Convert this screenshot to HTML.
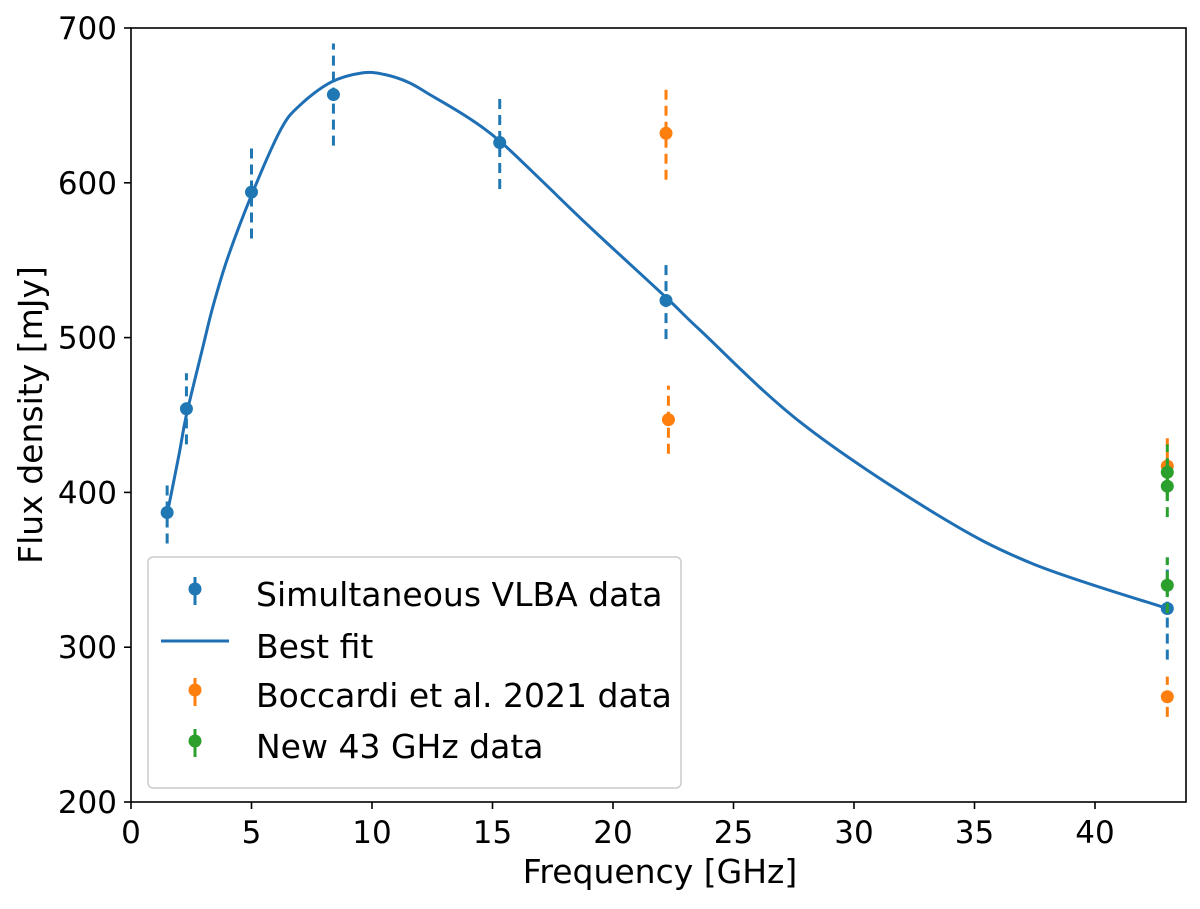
<!DOCTYPE html>
<html><head><meta charset="utf-8"><style>
body{margin:0;background:#fff}
svg text{font-family:"DejaVu Sans","Liberation Sans",sans-serif;fill:#000}
</style></head><body>
<svg id="c" width="1200" height="904" xmlns="http://www.w3.org/2000/svg"></svg>
<script>
const xTicks=[0,5,10,15,20,25,30,35,40];
const yTicks=[200,300,400,500,600,700];
const vlbaFreq=[1.5,2.3,5.0,8.4,15.3,22.2,43.0];
const vlbaFlux=[387,454,594,657,626,524,325];
const vlbaErr=[20,23,30,33,30,25,33];
const fitFreq=[1.5,2,2.3,3,3.4,4,5,6.2,7,8.3,9.6,10.5,11.5,12.4,14,15.3,17,19,22.2,23.6,27.8,33.3,37.4,43];
const fitFlux=[386,425,450,495,520,551,592,634,650,665,671,670,665,657,642,627,602,572,526,505,445,387,354,325];
const bocFreq=[22.2,22.3,43.0,43.0];
const bocFlux=[632,447,417,268];
const bocErr=[30,22,18,13];
const newFreq=[43.0,43.0,43.0];
const newFlux=[413,404,340];
const newErr=[18,20,18];

const NS="http://www.w3.org/2000/svg";
const svg=document.getElementById('c');
const L=131,R=1186,T=28,B=802;
const X=v=>L+v*24.1;
const Y=v=>B-(v-200)*1.548;
function mk(t,a,p){const e=document.createElementNS(NS,t);for(const k in a)e.setAttribute(k,a[k]);(p||svg).appendChild(e);return e;}

const P=fitFreq.map((f,i)=>[X(f),Y(fitFlux[i])]);
let d='M'+P[0][0]+' '+P[0][1];
for(let i=0;i<P.length-1;i++){
  const p0=P[Math.max(0,i-1)],p1=P[i],p2=P[i+1],p3=P[Math.min(P.length-1,i+2)];
  const c1=[p1[0]+(p2[0]-p0[0])/6,p1[1]+(p2[1]-p0[1])/6];
  const c2=[p2[0]-(p3[0]-p1[0])/6,p2[1]-(p3[1]-p1[1])/6];
  d+=` C${c1[0].toFixed(1)} ${c1[1].toFixed(1)} ${c2[0].toFixed(1)} ${c2[1].toFixed(1)} ${p2[0].toFixed(1)} ${p2[1].toFixed(1)}`;
}
const fit=mk('path',{d:d,fill:'none',stroke:'#1f6fb4','stroke-width':3});



function series(fr,fl,er,col,name){
  const g=mk('g',{});
  
  
  fr.forEach((f,i)=>{
    const eb=mk('line',{x1:X(f),x2:X(f),y1:Y(fl[i]-er[i]),y2:Y(fl[i]+er[i]),stroke:col,'stroke-width':3,'stroke-dasharray':'10 6'},g);
    
    
  });
  fr.forEach((f,i)=>{
    const c=mk('circle',{cx:X(f),cy:Y(fl[i]),r:6.5,fill:col},g);
    
    
  });
}
series(vlbaFreq,vlbaFlux,vlbaErr,'#1f77b4','vlba-series');
series(bocFreq,bocFlux,bocErr,'#ff7f0e','boccardi-series');
series(newFreq,newFlux,newErr,'#2ca02c','new-43ghz-series');

const fr=mk('rect',{x:L,y:T,width:R-L,height:B-T,fill:'none',stroke:'#000','stroke-width':1.6});


xTicks.forEach(t=>{
  mk('line',{x1:X(t),x2:X(t),y1:B,y2:B+7,stroke:'#000','stroke-width':1.6});
  const tx=mk('text',{x:X(t),y:B+41,'text-anchor':'middle','font-size':31});tx.textContent=t;
  
  
});
yTicks.forEach(t=>{
  mk('line',{x1:L-7,x2:L,y1:Y(t),y2:Y(t),stroke:'#000','stroke-width':1.6});
  const tx=mk('text',{x:L-14,y:Y(t)+11,'text-anchor':'end','font-size':31});tx.textContent=t;
  
  
});
const xl=mk('text',{x:660,y:883,'text-anchor':'middle','font-size':33});xl.textContent='Frequency [GHz]';


const yl=mk('text',{x:42,y:415,'text-anchor':'middle','font-size':33,transform:'rotate(-90 42 415)'});yl.textContent='Flux density [mJy]';



const lg=mk('g',{});


mk('rect',{x:148,y:557,width:533,height:231,rx:5,fill:'#fff','fill-opacity':0.8,stroke:'#ccc','stroke-width':1.5},lg);
const ent=[['Simultaneous VLBA data','#1f77b4',0],['Best fit','#1f6fb4',1],['Boccardi et al. 2021 data','#ff7f0e',0],['New 43 GHz data','#2ca02c',0]];
const ys=[589,641,690,741];
ent.forEach((e,i)=>{
  const g=mk('g',{},lg);
  
  
  const y=ys[i];
  if(e[2]) mk('line',{x1:161,x2:229,y1:y,y2:y,stroke:e[1],'stroke-width':3},g);
  else{mk('line',{x1:195,x2:195,y1:y-12,y2:y+16,stroke:e[1],'stroke-width':3},g);mk('circle',{cx:195,cy:y,r:6.5,fill:e[1]},g);}
  const t=mk('text',{x:256,y:y+17,'font-size':33},g);t.textContent=e[0];
});
</script>
</body></html>
